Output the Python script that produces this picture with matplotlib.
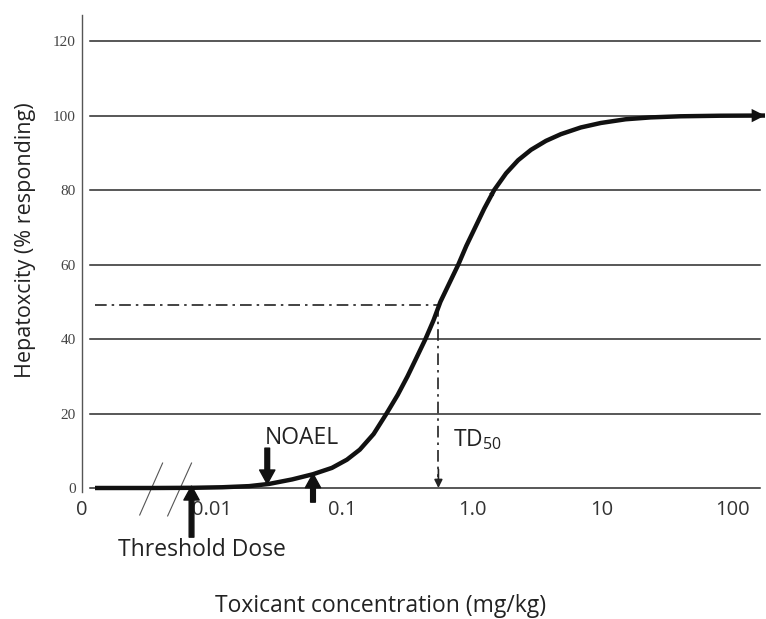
import numpy as np
import matplotlib
matplotlib.use("Agg")
import matplotlib.pyplot as plt
from matplotlib.ticker import NullLocator

plt.rcParams['font.family'] = ['Open Sans', 'DejaVu Sans']
plt.rcParams['mathtext.fontset'] = 'custom'
plt.rcParams['mathtext.rm'] = 'Open Sans'

# dose-response curve (mg/kg, % responding)
dose = [0.00126, 0.00350, 0.00708, 0.0120, 0.0193, 0.0275, 0.0413, 0.0598,
        0.0836, 0.109, 0.137, 0.175, 0.220, 0.268, 0.319, 0.374, 0.438,
        0.505, 0.571, 0.669, 0.784, 0.903, 1.058, 1.240, 1.479, 1.827,
        2.259, 2.840, 3.700, 4.819, 6.858, 9.757, 15.16, 23.56, 39.99,
        80.93, 178.9]
response = [0.0, 0.0, 0.05, 0.2, 0.5, 1.1, 2.3, 3.7,
            5.4, 7.6, 10.3, 14.5, 20.0, 25.0, 30.0, 35.0, 40.0,
            45.0, 50.0, 55.0, 60.0, 65.0, 70.0, 75.0, 80.0, 84.5,
            88.0, 90.8, 93.2, 95.0, 96.8, 98.0, 99.0, 99.5, 99.8,
            99.95, 100.0]

y_ticks = [0, 20, 40, 60, 80, 100, 120]
x_ticks = [0.001, 0.01, 0.1, 1, 10, 100]
x_tick_labels = ['0', '0.01', '0.1', '1.0', '10', '100']

td50_dose, td50_resp = 0.551, 49
noael_dose, noael_resp = 0.0266, 1.1
loael_dose, loael_resp = 0.0598, 3.8
threshold_dose, threshold_resp = 0.00696, 0.5

fig = plt.figure(figsize=(7.66, 6.19), dpi=100)
ax = fig.add_axes([0.107, 0.2052, 0.893, 0.7706])

ax.set_xscale('log')
ax.set_xlim(0.001054, 182.1)
ax.set_ylim(-1.07, 127)

# horizontal rules (not touching the spine)
for y in y_ticks:
    ax.axhline(y, xmin=0.0117, xmax=0.991, color='#2a2a2a', lw=1.1, zorder=1)

# TD50 guide lines
ax.plot([dose[0], td50_dose], [td50_resp, td50_resp], color='#222222', lw=1.2,
        dashes=(7, 3, 1.5, 3), zorder=2)
ax.plot([td50_dose, td50_dose], [td50_resp, 3], color='#222222', lw=1.2,
        dashes=(7, 3, 1.5, 3), zorder=2)
ax.annotate('', xy=(td50_dose, 0), xytext=(td50_dose, 5),
            arrowprops=dict(arrowstyle='-|>', color='#222222', lw=1.2,
                            mutation_scale=12, shrinkA=0, shrinkB=0))

# the curve
ax.plot(dose, response, color='#111111', lw=3.2, solid_capstyle='butt',
        solid_joinstyle='round', zorder=4, clip_on=False)
ax.annotate('', xy=(dose[-1], response[-1]), xytext=(dose[-2], response[-2]),
            annotation_clip=False,
            arrowprops=dict(arrowstyle='-|>', color='#111111', lw=0,
                            mutation_scale=24, shrinkA=0, shrinkB=0))
ax.annotate('', xy=(dose[24], response[24]), xytext=(dose[23], response[23]),
            arrowprops=dict(arrowstyle='-|>', color='#111111', lw=0,
                            mutation_scale=10, shrinkA=0, shrinkB=0), zorder=5)

# marker arrows
arrow_kw = dict(facecolor='#111111', edgecolor='#111111', width=3.4,
                headwidth=11, headlength=10)
ax.annotate('', xy=(noael_dose, noael_resp), xytext=(noael_dose, 10.7),
            arrowprops=arrow_kw, annotation_clip=False)
ax.annotate('', xy=(loael_dose, loael_resp), xytext=(loael_dose, -3.8),
            arrowprops=arrow_kw, annotation_clip=False)
ax.annotate('', xy=(threshold_dose, threshold_resp), xytext=(threshold_dose, -13.2),
            arrowprops=arrow_kw, annotation_clip=False)

# axis break slashes
ax.plot([0.00278, 0.00417], [-7.25, 6.7], color='#555555', lw=0.8, clip_on=False)
ax.plot([0.00456, 0.00696], [-7.5, 6.7], color='#555555', lw=0.8, clip_on=False)

# labels
ax.text(0.02564, 13.5, 'NOAEL', fontsize=16.5, color='#222222', ha='left', va='center')
ax.text(0.001887, -16.6, 'Threshold Dose', fontsize=16.5, color='#222222',
        ha='left', va='center')
ax.text(0.7178, 12.9, r'TD$_{50}$', fontsize=16.5, color='#222222',
        ha='left', va='center')

ax.set_xticks(x_ticks)
ax.set_xticklabels(x_tick_labels, fontsize=14.5, color='#333333')
ax.xaxis.set_minor_locator(NullLocator())
ax.set_yticks(y_ticks)
ax.set_yticklabels([str(v) for v in y_ticks], fontsize=11, color='#444444',
                   family='Liberation Serif')
ax.tick_params(axis='both', length=0)
ax.tick_params(axis='x', pad=6)
ax.tick_params(axis='y', pad=4.5)

for s in ['top', 'right', 'bottom']:
    ax.spines[s].set_visible(False)
ax.spines['left'].set_color('#555555')
ax.spines['left'].set_linewidth(1.0)

ax.set_xlabel('Toxicant concentration (mg/kg)', fontsize=16.5, color='#222222')
ax.xaxis.set_label_coords(0.437, -0.214)
ax.set_ylabel('Hepatoxcity (% responding)', fontsize=15.5, color='#222222')
ax.yaxis.set_label_coords(-0.067, 0.528)

fig.savefig('out.png', dpi=100)
